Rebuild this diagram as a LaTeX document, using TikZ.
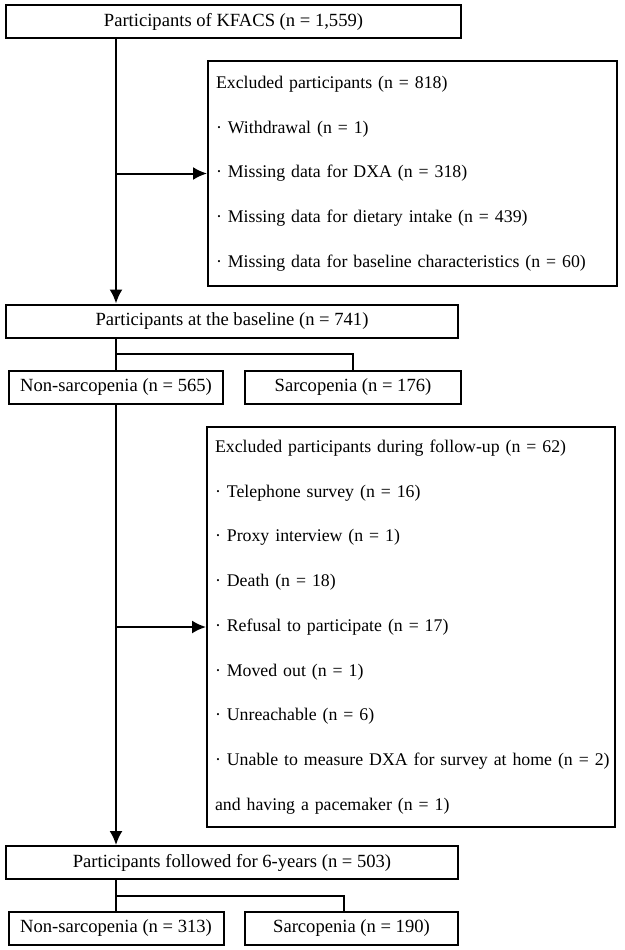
\documentclass[tikz,border=0pt]{standalone}
\usepackage{fontspec}
\setmainfont{Liberation Serif}
\usepackage{tikz}
\usetikzlibrary{arrows.meta,positioning}

\begin{document}
\begin{tikzpicture}[x=1pt,y=1pt,
    box/.style={draw, line width=2pt, inner sep=0pt, minimum height=33pt, font=\fontsize{18.6}{20}\selectfont},
    exbox/.style={box, align=left, inner xsep=8pt, font=\fontsize{17.8}{44.7}\selectfont},
    flow/.style={line width=2pt},
    arr/.style={flow, -{Latex[length=14pt,width=13pt]}}]
  \useasboundingbox (0,0) rectangle (624,-950);
  \node[box, minimum width=455pt] (kfacs) at (233.5,-21.5) {Participants of KFACS (n = 1,559)};
  \node[exbox, text width=393pt, minimum height=225pt] (ex1) at (412.5,-173.5)
    {Excluded participants (n = 818)\\
     · Withdrawal (n = 1)\\
     · Missing data for DXA (n = 318)\\
     · Missing data for dietary intake (n = 439)\\
     · Missing data for baseline characteristics (n = 60)};
  \node[box, minimum width=452pt] (base) at (232,-321) {Participants at the baseline (n = 741)};
  \node[box, minimum width=214pt] (ns1) at (116,-387.5) {Non-sarcopenia (n = 565)};
  \node[box, minimum width=216pt] (s1) at (353,-387.5) {Sarcopenia (n = 176)};
  \node[exbox, text width=392pt, minimum height=400pt] (ex2) at (411,-627)
    {Excluded participants during follow-up (n = 62)\\
     · Telephone survey (n = 16)\\
     · Proxy interview (n = 1)\\
     · Death (n = 18)\\
     · Refusal to participate (n = 17)\\
     · Moved out (n = 1)\\
     · Unreachable (n = 6)\\
     \mbox{· Unable to measure DXA for survey at home (n = 2)}\\
     and having a pacemaker (n = 1)};
  \node[box, minimum width=452pt] (fol) at (232,-862.5) {Participants followed for 6-years (n = 503)};
  \node[box, minimum width=215pt] (ns2) at (116,-928.5) {Non-sarcopenia (n = 313)};
  \node[box, minimum width=213pt] (s2) at (351.5,-928.5) {Sarcopenia (n = 190)};
  % baseline selection
  \draw[arr] (kfacs.south -| ns1) -- (base.north -| ns1);
  \draw[arr] (ns1 |- ex1.west) -- (ex1.west);
  \draw[flow] (base.south -| ns1) -- (ns1.north);
  \draw[flow] (ns1 |- 0,-354) -| (s1.north);
  % follow-up
  \draw[arr] (ns1.south) -- (fol.north -| ns1);
  \draw[arr] (ns1 |- ex2.west) -- (ex2.west);
  \draw[flow] (fol.south -| ns2) -- (ns2.north);
  \draw[flow] (ns2 |- 0,-896) -| ([xshift=-8pt]s2.north);
\end{tikzpicture}
\end{document}
